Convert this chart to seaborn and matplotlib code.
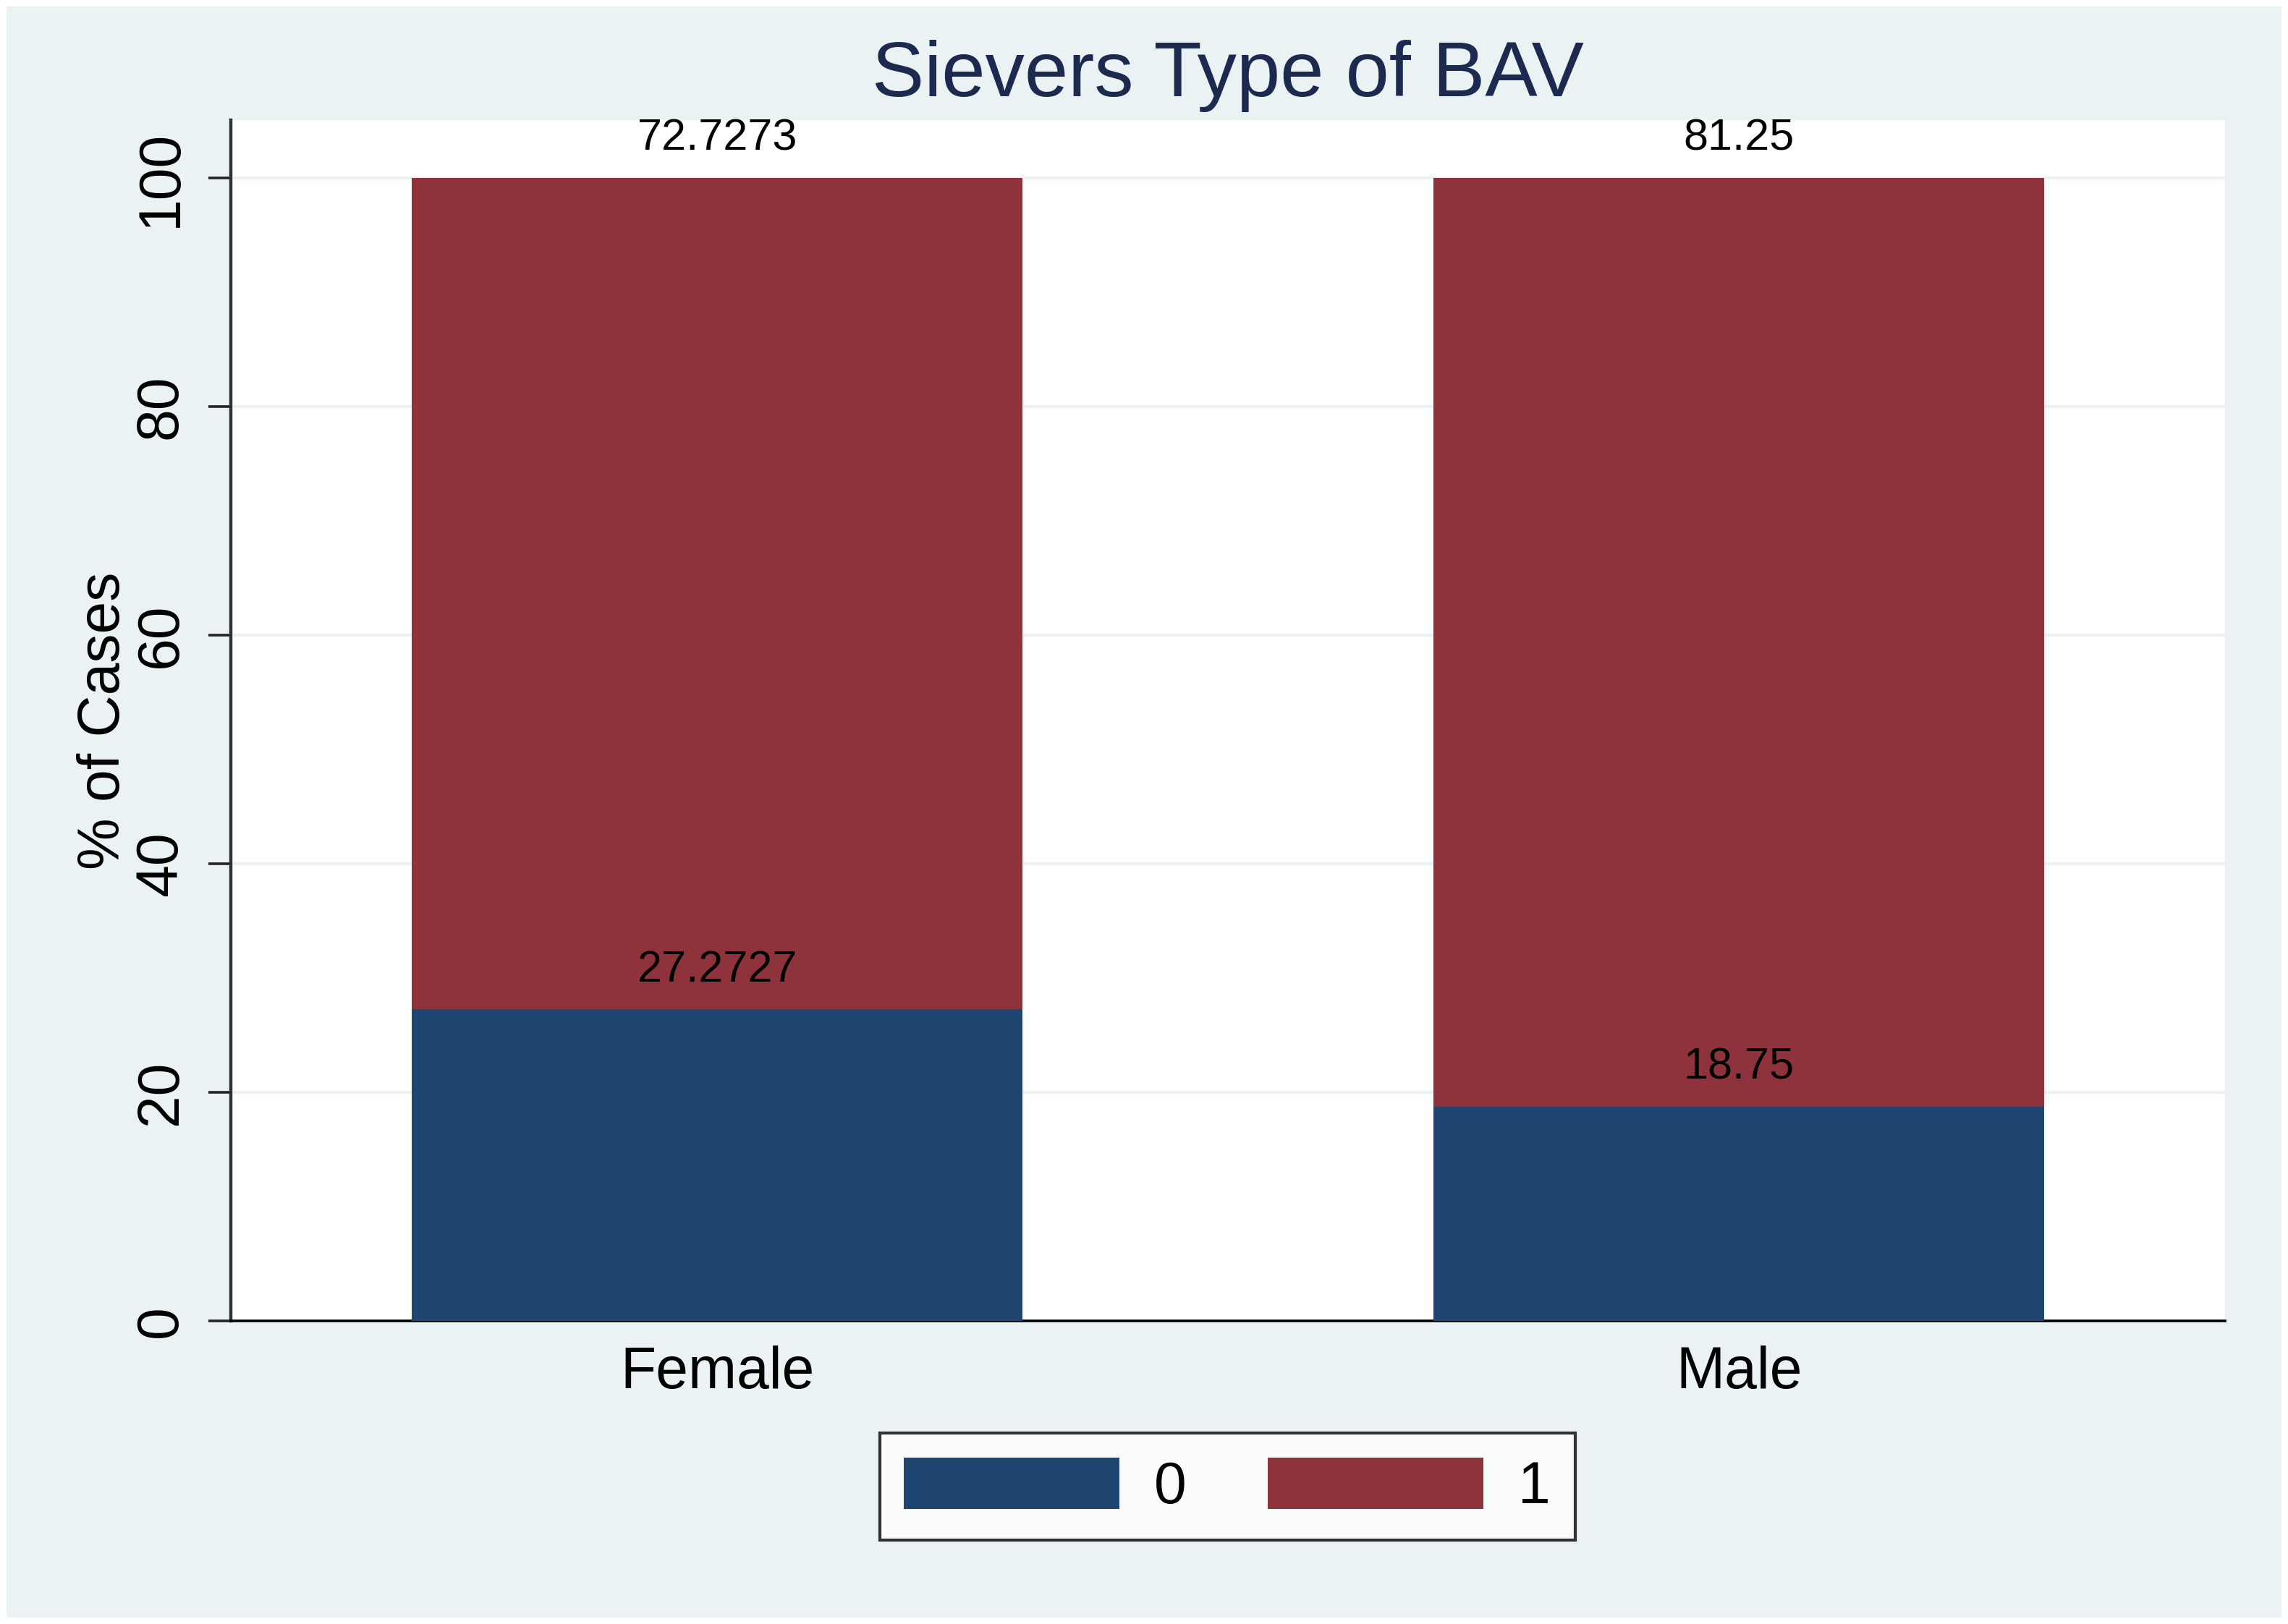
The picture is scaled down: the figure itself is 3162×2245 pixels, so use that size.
import matplotlib
matplotlib.use("Agg")
import matplotlib.pyplot as plt
import seaborn as sns
import pandas as pd
from matplotlib.patches import Rectangle, Patch

# ---- data ----
categories = ["Female", "Male"]
series0 = [27.2727, 18.75]
series1 = [72.7273, 81.25]
legend_labels = ["0", "1"]
yticks = [0, 20, 40, 60, 80, 100]
title = "Sievers Type of BAV"
ylabel = "% of Cases"

navy = "#1E4670"
maroon = "#8E333B"
bg = "#EAF2F3"

sns.set_theme(style="white")
plt.rcParams["font.family"] = ["Liberation Sans", "DejaVu Sans"]
plt.rcParams["text.color"] = "black"
plt.rcParams["axes.labelcolor"] = "black"
plt.rcParams["xtick.color"] = "black"
plt.rcParams["ytick.color"] = "black"

fig = plt.figure(figsize=(15.81, 11.225), dpi=200, facecolor="white")
fig.patches.append(Rectangle((0.003, 0.004), 0.994, 0.992, transform=fig.transFigure,
                             facecolor=bg, edgecolor="none", zorder=-10))
ax = fig.add_axes([0.1009, 0.1865, 0.8717, 0.7396])
ax.set_facecolor("white")

totals = [a + b for a, b in zip(series0, series1)]
df_tot = pd.DataFrame({"cat": categories, "val": totals})
df0 = pd.DataFrame({"cat": categories, "val": series0})

sns.barplot(data=df_tot, x="cat", y="val", color=maroon, saturation=1, width=0.598,
            ax=ax, zorder=3, linewidth=0)
sns.barplot(data=df0, x="cat", y="val", color=navy, saturation=1, width=0.598,
            ax=ax, zorder=4, linewidth=0)

# value labels
for i, (v0, v1) in enumerate(zip(series0, series1)):
    ax.annotate(f"{v0:g}", xy=(i, v0), xytext=(0, 19.5), textcoords="offset points",
                ha="center", va="center", fontsize=22, color="black", zorder=6)
    ax.annotate(f"{v1:g}", xy=(i, v0 + v1), xytext=(0, 19.5), textcoords="offset points",
                ha="center", va="center", fontsize=22, color="black", zorder=6)

ax.set_xlim(-0.476, 1.476)
ax.set_ylim(0, 105.1)
ax.set_yticks(yticks)
ax.yaxis.grid(True, color=bg, linewidth=1.5, zorder=0)
ax.set_axisbelow(True)

ax.tick_params(axis="y", labelrotation=90, length=11, width=1.3, pad=10,
               labelsize=29, left=True, color="#222222", labelcolor="black")
for lab in ax.get_yticklabels():
    lab.set_va("center")
ax.tick_params(axis="x", length=0, pad=12, labelsize=29, labelcolor="black")

ax.set_xlabel("")
ax.set_ylabel(ylabel, fontsize=29, labelpad=1, color="black")
ax.set_title(title, fontsize=39, color="#1B2A4E", pad=12)

for s in ["top", "right"]:
    ax.spines[s].set_visible(False)
ax.spines["left"].set_color("#333333")
ax.spines["left"].set_linewidth(1.6)
ax.spines["bottom"].set_color("black")
ax.spines["bottom"].set_linewidth(1.3)

handles = [Patch(facecolor=navy, edgecolor="none"), Patch(facecolor=maroon, edgecolor="none")]
leg = fig.legend(handles, legend_labels, loc="center", bbox_to_anchor=(0.5364, 0.0847),
                 ncol=2, fontsize=29, frameon=True, fancybox=False,
                 handlelength=3.69, handleheight=0.98, handletextpad=0.6,
                 columnspacing=1.4, borderpad=0.42)
leg.get_frame().set_edgecolor("black")
leg.get_frame().set_linewidth(1.5)
leg.get_frame().set_facecolor("white")
for t in leg.get_texts():
    t.set_color("black")

fig.savefig("out.png", dpi=200, facecolor=fig.get_facecolor())
